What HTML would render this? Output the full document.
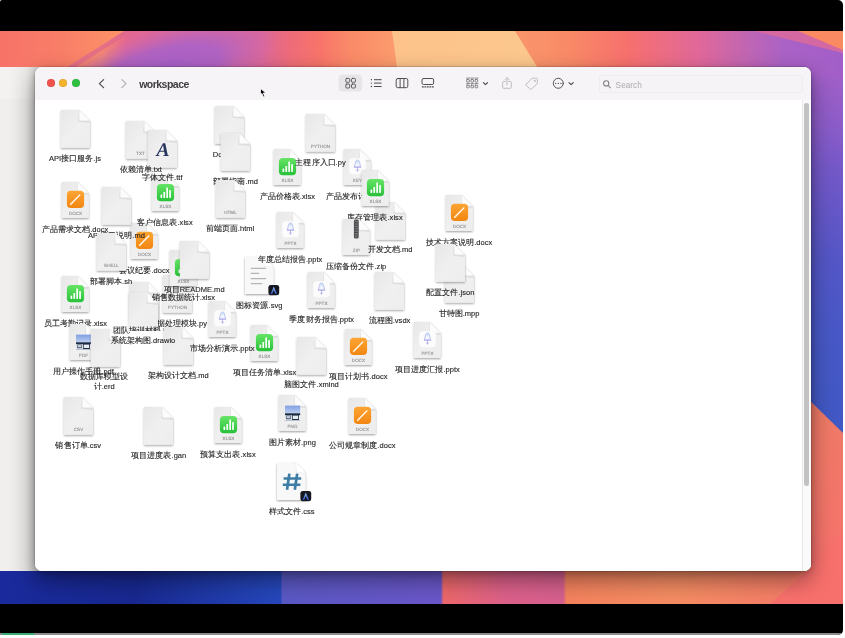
<!DOCTYPE html>
<html lang="zh">
<head>
<meta charset="utf-8">
<title>workspace</title>
<style>
html,body{margin:0;padding:0;background:#fff;}
body{width:845px;height:638px;overflow:hidden;position:relative;font-family:"Liberation Sans",sans-serif;}
#frame{position:absolute;left:0;top:0;width:843px;height:635px;background:#000;overflow:hidden;border-radius:2px 5px 5px 0;}
#wall{position:absolute;left:0;top:31px;width:843px;height:573px;display:block;}
#back{position:absolute;left:-20px;top:67px;width:65px;height:504px;background:linear-gradient(90deg,#f3f1ef 0,#f1efed 28px,#e9e7e5 46px,#d6d4d2 55px,#d6d4d2 65px);}
#back:before{content:"";position:absolute;left:0;top:0;width:65px;height:32px;background:linear-gradient(90deg,#f6f4f2 0,#f4f2f0 28px,#ecebe9 46px,#dbd9d7 55px,#dbd9d7 65px);}
#win{position:absolute;left:35px;top:67px;width:776px;height:504px;background:#fff;border-radius:7px;box-shadow:0 0 0 0.5px rgba(0,0,0,.22),0 9px 22px rgba(0,0,0,.42),0 2px 6px rgba(0,0,0,.18);overflow:hidden;}
#tb{position:absolute;left:0;top:0;width:776px;height:33px;background:#f6f4f7;border-bottom:0.5px solid #e9e7ea;}
.tl{position:absolute;top:12.2px;width:8px;height:8px;border-radius:50%;}
#title{position:absolute;left:104.2px;top:9.6px;filter:blur(0.25px);font-size:10.5px;font-weight:bold;color:#3e3c40;line-height:14px;letter-spacing:-0.52px;}
#search{position:absolute;left:564px;top:8.4px;width:204px;height:17.6px;border-radius:4px;background:#f5f3f6;box-shadow:inset 0 0 0 0.5px #e9e7ea;}
#search span{position:absolute;left:16.6px;top:3.2px;filter:blur(0.25px);font-size:8.3px;line-height:12px;color:#ababad;}
#tbi{position:absolute;left:0;top:0;filter:blur(0.25px);}
#content{position:absolute;left:0;top:33px;width:776px;height:471px;overflow:hidden;background:#fff;}
#items{position:absolute;left:-35px;top:-100px;width:845px;height:638px;filter:blur(0.3px);}
.ic{position:absolute;overflow:visible;}
.ic text{text-rendering:geometricPrecision;}
.lb{position:absolute;width:100px;text-align:center;font-size:7.5px;line-height:9.9px;letter-spacing:0.04px;color:#1f1f21;white-space:nowrap;-webkit-text-stroke:0.12px #1f1f21;}
#sbtrack{position:absolute;left:767px;top:33px;width:9px;height:471px;background:#fafafa;border-left:0.5px solid #e8e8e8;}
#sb{position:absolute;left:769.2px;top:35.5px;width:4.6px;height:383px;border-radius:2.3px;background:#c2c2c2;}
#prog{position:absolute;left:0;top:633px;width:843px;height:2px;background:#8c8c8c;}
#prog i{position:absolute;left:2px;top:0;width:32px;height:2px;background:#3cab74;}
#cur{position:absolute;left:258.6px;top:87.3px;}
</style>
</head>
<body>
<div id="frame">
<svg id="wall" width="843" height="573" viewBox="0 0 843 573" preserveAspectRatio="none">
 <defs>
  <linearGradient id="gt" x1="0" y1="0" x2="843" y2="0" gradientUnits="userSpaceOnUse">
   <stop offset="0" stop-color="#f87468"/>
   <stop offset="0.12" stop-color="#fb8c68"/>
   <stop offset="0.15" stop-color="#e46892"/>
   <stop offset="0.22" stop-color="#d868a0"/>
   <stop offset="0.31" stop-color="#dc689a"/>
   <stop offset="0.345" stop-color="#ee6c78"/>
   <stop offset="0.38" stop-color="#f8746a"/>
   <stop offset="0.415" stop-color="#fa8a68"/>
   <stop offset="0.465" stop-color="#fb9a6c"/>
   <stop offset="0.64" stop-color="#f9926a"/>
   <stop offset="0.68" stop-color="#f88866"/>
   <stop offset="0.745" stop-color="#f7706e"/>
   <stop offset="0.83" stop-color="#e0689a"/>
   <stop offset="0.88" stop-color="#c466b0"/>
   <stop offset="0.93" stop-color="#aa62c6"/>
   <stop offset="1" stop-color="#a25ec8"/>
  </linearGradient>
  <radialGradient id="rp" cx="0.5" cy="0.5" r="0.5">
   <stop offset="0" stop-color="#a460ca" stop-opacity="1"/>
   <stop offset="0.55" stop-color="#aa62c8" stop-opacity=".85"/>
   <stop offset="1" stop-color="#c466b4" stop-opacity="0"/>
  </radialGradient>
  <linearGradient id="gl" x1="0" y1="0" x2="124" y2="0" gradientUnits="userSpaceOnUse">
   <stop offset="0" stop-color="#f77268"/>
   <stop offset="0.5" stop-color="#f97e68"/>
   <stop offset="1" stop-color="#fc9468"/>
  </linearGradient>
  <linearGradient id="gband" x1="760" y1="40" x2="800" y2="0" gradientUnits="userSpaceOnUse">
   <stop offset="0" stop-color="#e0648e" stop-opacity="0"/>
   <stop offset="0.5" stop-color="#e4668a" stop-opacity=".8"/>
   <stop offset="1" stop-color="#ee6e80" stop-opacity=".9"/>
  </linearGradient>
  <linearGradient id="gr" x1="0" y1="0" x2="0" y2="573" gradientUnits="userSpaceOnUse">
   <stop offset="0" stop-color="#b062c4"/>
   <stop offset="0.06" stop-color="#a660c8"/>
   <stop offset="0.17" stop-color="#8a5cc8"/>
   <stop offset="0.24" stop-color="#7458c8"/>
   <stop offset="0.40" stop-color="#5456c6"/>
   <stop offset="0.52" stop-color="#4858c6"/>
   <stop offset="0.65" stop-color="#4258c4"/>
   <stop offset="1" stop-color="#3e58c2"/>
  </linearGradient>
  <linearGradient id="grc" x1="0" y1="370" x2="0" y2="573" gradientUnits="userSpaceOnUse">
   <stop offset="0" stop-color="#ee7a66"/>
   <stop offset="0.6" stop-color="#f4746a"/>
   <stop offset="1" stop-color="#f86c70"/>
  </linearGradient>
  <linearGradient id="gb" x1="0" y1="0" x2="843" y2="0" gradientUnits="userSpaceOnUse">
   <stop offset="0" stop-color="#1a2a9c"/>
   <stop offset="0.16" stop-color="#182890"/>
   <stop offset="0.333" stop-color="#2648bc"/>
   <stop offset="0.335" stop-color="#5a58c4"/>
   <stop offset="0.523" stop-color="#6a56c8"/>
   <stop offset="0.526" stop-color="#ec686a"/>
   <stop offset="0.60" stop-color="#dc608a"/>
   <stop offset="0.668" stop-color="#d6608e"/>
   <stop offset="0.672" stop-color="#f4825e"/>
   <stop offset="0.80" stop-color="#f48c62"/>
   <stop offset="0.92" stop-color="#f47e66"/>
   <stop offset="1" stop-color="#f8706c"/>
  </linearGradient>
  <linearGradient id="gpe" x1="392" y1="0" x2="540" y2="0" gradientUnits="userSpaceOnUse">
   <stop offset="0" stop-color="#fcc28a"/>
   <stop offset="1" stop-color="#fcc88e"/>
  </linearGradient>
 </defs>
 <!-- base / right strip -->
 <rect x="0" y="0" width="843" height="573" fill="url(#gr)"/>
 <!-- top strip -->
 <rect x="0" y="0" width="843" height="44" fill="url(#gt)"/>
 <ellipse cx="152" cy="46" rx="98" ry="60" fill="url(#rp)" transform="translate(152 46) skewX(-52) translate(-152 -46)"/>
 <polygon points="124,0 133,0 63,44 54,44" fill="#e06a8c" opacity=".8"/>
 <polygon points="0,0 124,0 54,44 0,44" fill="url(#gl)"/>
 <path d="M392,0 L515,0 C524,14 532,28 542,44 L398,44 Z" fill="url(#gpe)"/>
 <!-- top-right diagonal bands -->
 <polygon points="754,0 807,0 843,18 843,22" fill="#dc6a9c" opacity=".85"/>
 <polygon points="798,0 843,0 843,19" fill="#f98a62"/>
 <!-- right strip lower coral -->
 <polygon points="800,360 843,402 843,573 800,573" fill="url(#grc)"/>
 <!-- bottom strip -->
 <rect x="0" y="536" width="843" height="37" fill="url(#gb)"/>
 <polygon points="770,573 843,573 843,500 812,536" fill="#f8706c"/>
</svg>
<div id="back"></div>
<div id="win">
 <div id="tb">
  <div class="tl" style="left:11.6px;background:#f0524c;box-shadow:inset 0 0 0 .5px rgba(0,0,0,.12)"></div>
  <div class="tl" style="left:24.2px;background:#f5b32d;box-shadow:inset 0 0 0 .5px rgba(0,0,0,.12)"></div>
  <div class="tl" style="left:36.8px;background:#2fc03f;box-shadow:inset 0 0 0 .5px rgba(0,0,0,.12)"></div>
  <div id="title">workspace</div>
  <div id="search"><span>Search</span></div>
  <svg id="tbi" width="776" height="33" viewBox="35 67 776 33" fill="none" stroke-linecap="round" stroke-linejoin="round">
   <!-- back / forward -->
   <path d="M103.6,79.6 L99.4,83.6 L103.6,87.6" stroke="#4e4c50" stroke-width="1.25"/>
   <path d="M121.8,79.6 L126,83.6 L121.8,87.6" stroke="#b4b2b6" stroke-width="1.25"/>
   <!-- icon view (selected) -->
   <rect x="338.6" y="74.6" width="23.6" height="17" rx="4" fill="#e7e5e8" stroke="none"/>
   <g stroke="#4a484c" stroke-width="0.85">
    <rect x="345.8" y="78.4" width="3.9" height="3.9" rx="0.9"/>
    <rect x="351.5" y="78.4" width="3.9" height="3.9" rx="0.9"/>
    <rect x="345.8" y="84.1" width="3.9" height="3.9" rx="0.9"/>
    <rect x="351.5" y="84.1" width="3.9" height="3.9" rx="0.9"/>
   </g>
   <!-- list view -->
   <g stroke="#4a484c" stroke-width="1">
    <path d="M374.4,79.7H381.2M374.4,83.1H381.2M374.4,86.5H381.2"/>
    <path d="M371.4,79.7h.1M371.4,83.1h.1M371.4,86.5h.1" stroke-width="1.3"/>
   </g>
   <!-- column view -->
   <g stroke="#4a484c" stroke-width="0.95">
    <rect x="396.2" y="78.5" width="11.6" height="9.2" rx="1.6"/>
    <path d="M400.1,78.6V87.6M403.9,78.6V87.6"/>
   </g>
   <!-- gallery view -->
   <g stroke="#4a484c" stroke-width="0.95">
    <rect x="422" y="78.5" width="11.6" height="6" rx="1.5"/>
    <path d="M422.4,86.9h.9M424.9,86.9h.9M427.4,86.9h.9M429.9,86.9h.9M432.4,86.9h.9" stroke-width="1.1"/>
   </g>
   <!-- group -->
   <g stroke="#6c6a6e" stroke-width="0.8">
    <path d="M466.6,78.1h3M470.8,78.1h3M475,78.1h3M466.6,83.6h3M470.8,83.6h3M475,83.6h3"/>
    <rect x="466.7" y="79.5" width="2.6" height="2.6" rx="0.5"/>
    <rect x="470.9" y="79.5" width="2.6" height="2.6" rx="0.5"/>
    <rect x="475.1" y="79.5" width="2.6" height="2.6" rx="0.5"/>
    <rect x="466.7" y="85.2" width="2.6" height="2.6" rx="0.5"/>
    <rect x="470.9" y="85.2" width="2.6" height="2.6" rx="0.5"/>
    <rect x="475.1" y="85.2" width="2.6" height="2.6" rx="0.5"/>
   </g>
   <path d="M483.4,82.6 L485.5,84.6 L487.6,82.6" stroke="#4a484c" stroke-width="1.15"/>
   <!-- share -->
   <g stroke="#bcbabe" stroke-width="0.95">
    <path d="M505.4,81.4H503.6a.9,.9 0 0 0 -.9,.9V87.4a.9,.9 0 0 0 .9,.9H510.4a.9,.9 0 0 0 .9,-.9V82.3a.9,.9 0 0 0 -.9,-.9H508.6"/>
    <path d="M507,85.2V77.8M505,79.7L507,77.7L509,79.7"/>
   </g>
   <!-- tag -->
   <g stroke="#bcbabe" stroke-width="0.95">
    <path d="M526.3,84.2 L531.6,78.6 a1.2,1.2 0 0 1 .9,-.4 L536.4,78.2 a1,1 0 0 1 1,1 L537.4,83 a1.2,1.2 0 0 1 -.4,.9 L531.6,89 a1,1 0 0 1 -1.4,0 L526.3,85.6 a1,1 0 0 1 0,-1.4Z"/>
    <circle cx="534.7" cy="80.9" r="0.6"/>
   </g>
   <!-- more -->
   <g stroke="#4e4c50" stroke-width="0.95">
    <circle cx="558.3" cy="83.3" r="5"/>
    <path d="M555.7,83.3h.1M558.3,83.3h.1M560.9,83.3h.1" stroke-width="1.35"/>
   </g>
   <path d="M569,82.6 L571.1,84.6 L573.2,82.6" stroke="#4a484c" stroke-width="1.15"/>
   <!-- search glass -->
   <g stroke="#7f7d82" stroke-width="1.05">
    <circle cx="606.2" cy="83.4" r="2.6"/>
    <path d="M608.2,85.5 L610.4,87.8"/>
   </g>
  </svg>
 </div>
 <div id="content">
  <div id="items">
   <svg width="0" height="0" style="position:absolute">
    <defs>
     <linearGradient id="pgf" x1="0" y1="0" x2="1" y2="1">
      <stop offset="0" stop-color="#e7e7e7"/>
      <stop offset="0.5" stop-color="#f0f0f0"/>
      <stop offset="1" stop-color="#ededed"/>
     </linearGradient>
     <linearGradient id="fo" x1="0" y1="0" x2="1" y2="1">
      <stop offset="0" stop-color="#d9d9d9"/>
      <stop offset="1" stop-color="#e6e6e6"/>
     </linearGradient>
     <linearGradient id="og" x1="0" y1="0" x2="0" y2="1">
      <stop offset="0" stop-color="#fda534"/>
      <stop offset="1" stop-color="#f28612"/>
     </linearGradient>
     <linearGradient id="gg" x1="0" y1="0" x2="0" y2="1">
      <stop offset="0" stop-color="#66e466"/>
      <stop offset="1" stop-color="#28c13a"/>
     </linearGradient>
     <linearGradient id="sky" x1="0" y1="0" x2="0" y2="1">
      <stop offset="0" stop-color="#7f9fe2"/>
      <stop offset="1" stop-color="#bfd0f2"/>
     </linearGradient>
     <linearGradient id="arch" x1="0" y1="0" x2="0" y2="1">
      <stop offset="0" stop-color="#9cc6f6"/>
      <stop offset="1" stop-color="#2a52c4"/>
     </linearGradient>
     <filter id="sh" x="-30%" y="-30%" width="160%" height="160%">
      <feGaussianBlur in="SourceAlpha" stdDeviation="0.8"/>
      <feOffset dy="0.7" result="b"/>
      <feComponentTransfer><feFuncA type="linear" slope="0.38"/></feComponentTransfer>
      <feMerge><feMergeNode/><feMergeNode in="SourceGraphic"/></feMerge>
     </filter>
     <g id="pg">
      <path d="M0.4,0 H18.2 L29,10.8 V37.2 a.5,.5 0 0 1 -.5,.5 H0.4 a.5,.5 0 0 1 -.5,-.5 V0.5 a.5,.5 0 0 1 .5,-.5Z" fill="url(#pgf)" filter="url(#sh)"/>
      <path d="M18.2,0 L29,10.8 L29,13 L17.2,11.8Z" fill="#cfcfcf" opacity=".5"/>
      <path d="M18.2,0 L29,10.8 H19.6 a1.4,1.4 0 0 1 -1.4,-1.4Z" fill="#fcfcfc" stroke="#dedede" stroke-width=".3"/>
     </g>
     <g id="pgs" transform="translate(0.85,1)">
      <path d="M0.5,0 H15.8 L26.8,11 V35.5 a.5,.5 0 0 1 -.5,.5 H0.5 a.5,.5 0 0 1 -.5,-.5 V0.5 a.5,.5 0 0 1 .5,-.5Z" fill="url(#pgf)" filter="url(#sh)"/>
      <path d="M15.8,0 L26.8,11 L26.8,13 L14.8,12Z" fill="#cfcfcf" opacity=".5"/>
      <path d="M15.8,0 L26.8,11 H17.2 a1.4,1.4 0 0 1 -1.4,-1.4Z" fill="#fcfcfc" stroke="#dedede" stroke-width=".3"/>
     </g>
     <g id="pg2">
      <path d="M0.6,0 H17 C21,0.5 28,7 28.5,11.5 V36.4 a.6,.6 0 0 1 -.6,.6 H0.6 a.6,.6 0 0 1 -.6,-.6 V0.6 a.6,.6 0 0 1 .6,-.6Z" fill="#f8f8f8" filter="url(#sh)"/>
      <path d="M17,0 C21,0.5 28,7 28.5,11.5 C26,9.6 22.4,9.2 19.4,9.6 C19.6,6.4 19,2.6 17,0Z" fill="#fff" stroke="#dcdcdc" stroke-width=".35"/>
     </g>
     <g id="docx" transform="translate(0.3,0.7)">
      <rect x="5.6" y="9" width="17.2" height="17.2" rx="4" fill="url(#og)"/>
      <path d="M9.4,22.6 L18.6,13.2" stroke="#fff" stroke-width="1.35" stroke-linecap="round"/>
      <path d="M9.2,22.8 L10.6,21.4" stroke="#ffe2b8" stroke-width="1.35" stroke-linecap="round"/>
     </g>
     <g id="xlsx" transform="translate(0.3,1)">
      <rect x="5.6" y="9" width="17.2" height="17.2" rx="4" fill="url(#gg)"/>
      <g fill="#fff">
       <rect x="9.2" y="19.6" width="1.7" height="3.4" rx=".4"/>
       <rect x="12.1" y="17" width="1.7" height="6" rx=".4"/>
       <rect x="15" y="12.4" width="1.7" height="10.6" rx=".4"/>
       <rect x="17.9" y="15.1" width="1.7" height="7.9" rx=".4"/>
      </g>
     </g>
     <g id="pptx" transform="translate(0.3,0.6)">
      <rect x="5.9" y="9.6" width="16.6" height="16" rx="3.6" fill="#fcfcfd"/>
      <path d="M14.2,11.4 c-1.2,0 -1.8,1 -2.1,2.3 l-1,4.8 h6.2 l-1,-4.8 c-.3,-1.3 -.9,-2.3 -2.1,-2.3Z" fill="#eff4fd" stroke="#8a8fe0" stroke-width=".5" stroke-linejoin="round"/>
      <circle cx="14.2" cy="12.9" r="1" fill="#cfe2f8" stroke="#a9c6f0" stroke-width=".35"/>
      <path d="M10.9,18.6 H17.5 M14.2,18.7 V22.4 M13.2,21.2 L14.2,22.6 L15.2,21.2" stroke="#8a84da" stroke-width=".5" fill="none" stroke-linecap="round"/>
     </g>
     <g id="thumb" transform="translate(0.3,0)">
      <rect x="6.7" y="11.6" width="15.2" height="15.4" fill="#eef2f7"/>
      <rect x="6.7" y="11.6" width="15.2" height="8" fill="url(#sky)"/>
      <rect x="6.7" y="19.3" width="15.2" height="1.9" fill="#1d2b44"/>
      <rect x="7.6" y="21.6" width="5" height="3.6" rx=".4" fill="#3a4a60"/>
      <rect x="8.2" y="22.1" width="3.8" height="2.2" fill="#c8d4e4"/>
      <rect x="13.6" y="20.4" width="7" height="5.6" rx=".5" fill="#202c40"/>
      <rect x="14.4" y="21.6" width="5.4" height="3.4" fill="#e6ecf4"/>
      <rect x="6.7" y="26.2" width="15.2" height=".8" fill="#aab4c4"/>
     </g>
     <g id="zipper" transform="translate(0.1,1)">
      <rect x="11.8" y="0.4" width="4.8" height="19.2" rx="1.6" fill="#4a4a4c"/>
      <path d="M12.4,2.6h3.6M12.4,5h3.6M12.4,7.4h3.6M12.4,9.8h3.6M12.4,12.2h3.6M12.4,14.6h3.6" stroke="#8e8e90" stroke-width=".8"/>
      <rect x="12.8" y="15.4" width="2.8" height="3.4" rx=".9" fill="#6a6a6c"/>
     </g>
     <g id="lines" stroke="#b4b4b6" stroke-width="1.25" stroke-linecap="round">
      <path d="M6.2,11.3H20.6M6.2,16.4H13.8M6.2,21.5H20.6M6.2,26.6H16.8"/>
     </g>
     <g id="badge">
      <rect x="23.4" y="27.9" width="10.8" height="10.4" rx="2.4" fill="#16161e"/>
      <path d="M25.5,36.9 L28.8,29.4 L32.1,36.9 L30.4,36.9 L28.8,33 L27.2,36.9Z" fill="url(#arch)"/>
     </g>
    </defs>
   </svg>
<svg class="ic" style="left:56.5px;top:107.1px" width="40" height="46" viewBox="-4 -3 40 46"><use href="#pg"/></svg>
<div class="lb" style="left:25.0px;top:154.0px">API接口服务.js</div>
<svg class="ic" style="left:146.5px;top:170.8px" width="40" height="46" viewBox="-4 -3 40 46"><use href="#pgs"/><use href="#xlsx"/><text x="14.5" y="33.9" text-anchor="middle" font-family="Liberation Sans, sans-serif" font-size="4.5" fill="#909090" stroke="#909090" stroke-width="0.12" letter-spacing="0.1">XLSX</text></svg>
<svg class="ic" style="left:122.2px;top:118.0px" width="40" height="46" viewBox="-4 -3 40 46"><use href="#pg"/><text x="14.5" y="33.9" text-anchor="middle" font-family="Liberation Sans, sans-serif" font-size="4.5" fill="#909090" stroke="#909090" stroke-width="0.12" letter-spacing="0.1">TXT</text></svg>
<svg class="ic" style="left:143.7px;top:126.5px" width="40" height="46" viewBox="-4 -3 40 46"><use href="#pg"/><text x="14.9" y="26.4" text-anchor="middle" font-family="Liberation Serif, serif" font-style="italic" font-weight="bold" font-size="19.5" fill="#28355f">A</text></svg>
<div class="lb" style="left:90.7px;top:164.9px">依赖清单.txt</div>
<div class="lb" style="left:112.2px;top:173.4px">字体文件.ttf</div>
<svg class="ic" style="left:211.2px;top:102.7px" width="40" height="46" viewBox="-4 -3 40 46"><use href="#pg"/></svg>
<div class="lb" style="left:179.7px;top:149.6px">Dockerfile</div>
<svg class="ic" style="left:217.2px;top:130.2px" width="40" height="46" viewBox="-4 -3 40 46"><use href="#pg"/></svg>
<div class="lb" style="left:185.7px;top:177.1px">部署指南.md</div>
<svg class="ic" style="left:211.5px;top:177.2px" width="40" height="46" viewBox="-4 -3 40 46"><use href="#pg"/><text x="14.5" y="33.9" text-anchor="middle" font-family="Liberation Sans, sans-serif" font-size="4.5" fill="#909090" stroke="#909090" stroke-width="0.12" letter-spacing="0.1">HTML</text></svg>
<div class="lb" style="left:180.0px;top:224.1px">前端页面.html</div>
<svg class="ic" style="left:268.8px;top:144.9px" width="40" height="46" viewBox="-4 -3 40 46"><use href="#pgs"/><use href="#xlsx"/><text x="14.5" y="33.9" text-anchor="middle" font-family="Liberation Sans, sans-serif" font-size="4.5" fill="#909090" stroke="#909090" stroke-width="0.12" letter-spacing="0.1">XLSX</text></svg>
<div class="lb" style="left:237.3px;top:191.8px">产品价格表.xlsx</div>
<svg class="ic" style="left:338.7px;top:144.9px" width="40" height="46" viewBox="-4 -3 40 46"><use href="#pgs"/><use href="#pptx"/><text x="14.5" y="33.9" text-anchor="middle" font-family="Liberation Sans, sans-serif" font-size="4.5" fill="#909090" stroke="#909090" stroke-width="0.12" letter-spacing="0.1">KEY</text></svg>
<div class="lb" style="left:307.2px;top:191.8px">产品发布计划.key</div>
<svg class="ic" style="left:302.1px;top:111.1px" width="40" height="46" viewBox="-4 -3 40 46"><use href="#pg"/><text x="14.5" y="33.9" text-anchor="middle" font-family="Liberation Sans, sans-serif" font-size="4.5" fill="#909090" stroke="#909090" stroke-width="0.12" letter-spacing="0.1">PYTHON</text></svg>
<div class="lb" style="left:270.6px;top:158.0px">主程序入口.py</div>
<svg class="ic" style="left:371.5px;top:198.5px" width="40" height="46" viewBox="-4 -3 40 46"><use href="#pg"/></svg>
<svg class="ic" style="left:356.5px;top:165.7px" width="40" height="46" viewBox="-4 -3 40 46"><use href="#pgs"/><use href="#xlsx"/><text x="14.5" y="33.9" text-anchor="middle" font-family="Liberation Sans, sans-serif" font-size="4.5" fill="#909090" stroke="#909090" stroke-width="0.12" letter-spacing="0.1">XLSX</text></svg>
<div class="lb" style="left:325.0px;top:212.6px">库存管理表.xlsx</div>
<svg class="ic" style="left:337.8px;top:215.2px" width="40" height="46" viewBox="-4 -3 40 46"><use href="#pgs"/><use href="#zipper"/><text x="14.5" y="33.9" text-anchor="middle" font-family="Liberation Sans, sans-serif" font-size="4.5" fill="#909090" stroke="#909090" stroke-width="0.12" letter-spacing="0.1">ZIP</text></svg>
<div class="lb" style="left:306.3px;top:262.1px">压缩备份文件.zip</div>
<div class="lb" style="left:340.0px;top:245.4px">开发文档.md</div>
<svg class="ic" style="left:56.7px;top:178.2px" width="40" height="46" viewBox="-4 -3 40 46"><use href="#pgs"/><use href="#docx"/><text x="14.5" y="33.9" text-anchor="middle" font-family="Liberation Sans, sans-serif" font-size="4.5" fill="#909090" stroke="#909090" stroke-width="0.12" letter-spacing="0.1">DOCX</text></svg>
<div class="lb" style="left:25.2px;top:225.1px">产品需求文档.docx</div>
<svg class="ic" style="left:125.9px;top:219.0px" width="40" height="46" viewBox="-4 -3 40 46"><use href="#pgs"/><use href="#docx"/><text x="14.5" y="33.9" text-anchor="middle" font-family="Liberation Sans, sans-serif" font-size="4.5" fill="#909090" stroke="#909090" stroke-width="0.12" letter-spacing="0.1">DOCX</text></svg>
<div class="lb" style="left:94.4px;top:265.9px">会议纪要.docx</div>
<div class="lb" style="left:115.0px;top:217.7px">客户信息表.xlsx</div>
<svg class="ic" style="left:97.9px;top:184.4px" width="40" height="46" viewBox="-4 -3 40 46"><use href="#pg"/></svg>
<div class="lb" style="left:66.4px;top:231.3px">API接口说明.md</div>
<svg class="ic" style="left:440.7px;top:191.4px" width="40" height="46" viewBox="-4 -3 40 46"><use href="#pgs"/><use href="#docx"/><text x="14.5" y="33.9" text-anchor="middle" font-family="Liberation Sans, sans-serif" font-size="4.5" fill="#909090" stroke="#909090" stroke-width="0.12" letter-spacing="0.1">DOCX</text></svg>
<div class="lb" style="left:409.2px;top:238.3px">技术方案说明.docx</div>
<svg class="ic" style="left:440.5px;top:262.1px" width="40" height="46" viewBox="-4 -3 40 46"><use href="#pg"/></svg>
<div class="lb" style="left:409.0px;top:309.0px">甘特图.mpp</div>
<svg class="ic" style="left:431.8px;top:240.9px" width="40" height="46" viewBox="-4 -3 40 46"><use href="#pg"/></svg>
<div class="lb" style="left:400.3px;top:287.8px">配置文件.json</div>
<svg class="ic" style="left:240.9px;top:254.1px" width="40" height="46" viewBox="-4 -3 40 46"><use href="#pg2"/><use href="#lines"/><use href="#badge"/></svg>
<div class="lb" style="left:209.4px;top:301.0px">图标资源.svg</div>
<svg class="ic" style="left:271.5px;top:208.3px" width="40" height="46" viewBox="-4 -3 40 46"><use href="#pgs"/><use href="#pptx"/><text x="14.5" y="33.9" text-anchor="middle" font-family="Liberation Sans, sans-serif" font-size="4.5" fill="#909090" stroke="#909090" stroke-width="0.12" letter-spacing="0.1">PPTX</text></svg>
<div class="lb" style="left:240.0px;top:255.2px">年度总结报告.pptx</div>
<svg class="ic" style="left:159.3px;top:272.2px" width="40" height="46" viewBox="-4 -3 40 46"><use href="#pg"/><text x="14.5" y="33.9" text-anchor="middle" font-family="Liberation Sans, sans-serif" font-size="4.5" fill="#909090" stroke="#909090" stroke-width="0.12" letter-spacing="0.1">PYTHON</text></svg>
<div class="lb" style="left:127.8px;top:319.1px">数据处理模块.py</div>
<svg class="ic" style="left:125.5px;top:278.8px" width="40" height="46" viewBox="-4 -3 40 46"><use href="#pg"/></svg>
<svg class="ic" style="left:124.5px;top:289.1px" width="40" height="46" viewBox="-4 -3 40 46"><use href="#pg"/></svg>
<svg class="ic" style="left:164.8px;top:245.9px" width="40" height="46" viewBox="-4 -3 40 46"><use href="#pgs"/><use href="#xlsx"/><text x="14.5" y="33.9" text-anchor="middle" font-family="Liberation Sans, sans-serif" font-size="4.5" fill="#909090" stroke="#909090" stroke-width="0.12" letter-spacing="0.1">XLSX</text></svg>
<div class="lb" style="left:133.3px;top:292.8px">销售数据统计.xlsx</div>
<svg class="ic" style="left:175.6px;top:238.1px" width="40" height="46" viewBox="-4 -3 40 46"><use href="#pg"/></svg>
<div class="lb" style="left:144.1px;top:285.0px">项目README.md</div>
<svg class="ic" style="left:92.5px;top:230.0px" width="40" height="46" viewBox="-4 -3 40 46"><use href="#pg"/><text x="14.5" y="33.9" text-anchor="middle" font-family="Liberation Sans, sans-serif" font-size="4.5" fill="#909090" stroke="#909090" stroke-width="0.12" letter-spacing="0.1">SHELL</text></svg>
<div class="lb" style="left:61.0px;top:276.9px">部署脚本.sh</div>
<svg class="ic" style="left:56.9px;top:271.7px" width="40" height="46" viewBox="-4 -3 40 46"><use href="#pgs"/><use href="#xlsx"/><text x="14.5" y="33.9" text-anchor="middle" font-family="Liberation Sans, sans-serif" font-size="4.5" fill="#909090" stroke="#909090" stroke-width="0.12" letter-spacing="0.1">XLSX</text></svg>
<div class="lb" style="left:25.4px;top:318.6px">员工考勤记录.xlsx</div>
<div class="lb" style="left:94.0px;top:325.7px">团队培训材料.key</div>
<div style="position:absolute;left:129.5px;top:330.6px;width:35px;height:4.6px;background:#fff"></div>
<svg class="ic" style="left:303.3px;top:268.1px" width="40" height="46" viewBox="-4 -3 40 46"><use href="#pgs"/><use href="#pptx"/><text x="14.5" y="33.9" text-anchor="middle" font-family="Liberation Sans, sans-serif" font-size="4.5" fill="#909090" stroke="#909090" stroke-width="0.12" letter-spacing="0.1">PPTX</text></svg>
<div class="lb" style="left:271.8px;top:315.0px">季度财务报告.pptx</div>
<svg class="ic" style="left:371.0px;top:268.7px" width="40" height="46" viewBox="-4 -3 40 46"><use href="#pg"/></svg>
<div class="lb" style="left:339.5px;top:315.6px">流程图.vsdx</div>
<svg class="ic" style="left:65.0px;top:320.2px" width="40" height="46" viewBox="-4 -3 40 46"><use href="#pgs"/><use href="#thumb"/><text x="14.5" y="33.9" text-anchor="middle" font-family="Liberation Sans, sans-serif" font-size="4.5" fill="#909090" stroke="#909090" stroke-width="0.12" letter-spacing="0.1">PDF</text></svg>
<div class="lb" style="left:33.5px;top:367.1px">用户操作手册.pdf</div>
<svg class="ic" style="left:87.1px;top:325.5px" width="40" height="46" viewBox="-4 -3 40 46"><use href="#pg"/></svg>
<div class="lb" style="left:54.2px;top:372.4px">数据库模型设<br>计.erd</div>
<svg class="ic" style="left:159.8px;top:323.6px" width="40" height="46" viewBox="-4 -3 40 46"><use href="#pg"/></svg>
<div class="lb" style="left:128.3px;top:370.5px">架构设计文档.md</div>
<div class="lb" style="left:93.0px;top:336.0px">系统架构图.drawio</div>
<svg class="ic" style="left:246.1px;top:321.2px" width="40" height="46" viewBox="-4 -3 40 46"><use href="#pgs"/><use href="#xlsx"/><text x="14.5" y="33.9" text-anchor="middle" font-family="Liberation Sans, sans-serif" font-size="4.5" fill="#909090" stroke="#909090" stroke-width="0.12" letter-spacing="0.1">XLSX</text></svg>
<div class="lb" style="left:214.6px;top:368.1px">项目任务清单.xlsx</div>
<svg class="ic" style="left:203.8px;top:297.2px" width="40" height="46" viewBox="-4 -3 40 46"><use href="#pgs"/><use href="#pptx"/><text x="14.5" y="33.9" text-anchor="middle" font-family="Liberation Sans, sans-serif" font-size="4.5" fill="#909090" stroke="#909090" stroke-width="0.12" letter-spacing="0.1">PPTX</text></svg>
<div class="lb" style="left:172.3px;top:344.1px">市场分析演示.pptx</div>
<svg class="ic" style="left:293.1px;top:333.5px" width="40" height="46" viewBox="-4 -3 40 46"><use href="#pg"/></svg>
<div class="lb" style="left:261.6px;top:380.4px">脑图文件.xmind</div>
<svg class="ic" style="left:339.9px;top:324.9px" width="40" height="46" viewBox="-4 -3 40 46"><use href="#pgs"/><use href="#docx"/><text x="14.5" y="33.9" text-anchor="middle" font-family="Liberation Sans, sans-serif" font-size="4.5" fill="#909090" stroke="#909090" stroke-width="0.12" letter-spacing="0.1">DOCX</text></svg>
<div class="lb" style="left:308.4px;top:371.8px">项目计划书.docx</div>
<svg class="ic" style="left:409.0px;top:318.0px" width="40" height="46" viewBox="-4 -3 40 46"><use href="#pgs"/><use href="#pptx"/><text x="14.5" y="33.9" text-anchor="middle" font-family="Liberation Sans, sans-serif" font-size="4.5" fill="#909090" stroke="#909090" stroke-width="0.12" letter-spacing="0.1">PPTX</text></svg>
<div class="lb" style="left:377.5px;top:364.9px">项目进度汇报.pptx</div>
<svg class="ic" style="left:59.8px;top:394.1px" width="40" height="46" viewBox="-4 -3 40 46"><use href="#pg"/><text x="14.5" y="33.9" text-anchor="middle" font-family="Liberation Sans, sans-serif" font-size="4.5" fill="#909090" stroke="#909090" stroke-width="0.12" letter-spacing="0.1">CSV</text></svg>
<div class="lb" style="left:28.3px;top:441.0px">销售订单.csv</div>
<svg class="ic" style="left:140.3px;top:403.6px" width="40" height="46" viewBox="-4 -3 40 46"><use href="#pg"/></svg>
<div class="lb" style="left:108.8px;top:450.5px">项目进度表.gan</div>
<svg class="ic" style="left:209.5px;top:403.4px" width="40" height="46" viewBox="-4 -3 40 46"><use href="#pgs"/><use href="#xlsx"/><text x="14.5" y="33.9" text-anchor="middle" font-family="Liberation Sans, sans-serif" font-size="4.5" fill="#909090" stroke="#909090" stroke-width="0.12" letter-spacing="0.1">XLSX</text></svg>
<div class="lb" style="left:178.0px;top:450.3px">预算支出表.xlsx</div>
<svg class="ic" style="left:273.9px;top:390.8px" width="40" height="46" viewBox="-4 -3 40 46"><use href="#pgs"/><use href="#thumb"/><text x="14.5" y="33.9" text-anchor="middle" font-family="Liberation Sans, sans-serif" font-size="4.5" fill="#909090" stroke="#909090" stroke-width="0.12" letter-spacing="0.1">PNG</text></svg>
<div class="lb" style="left:242.4px;top:437.7px">图片素材.png</div>
<svg class="ic" style="left:343.8px;top:393.9px" width="40" height="46" viewBox="-4 -3 40 46"><use href="#pgs"/><use href="#docx"/><text x="14.5" y="33.9" text-anchor="middle" font-family="Liberation Sans, sans-serif" font-size="4.5" fill="#909090" stroke="#909090" stroke-width="0.12" letter-spacing="0.1">DOCX</text></svg>
<div class="lb" style="left:312.3px;top:440.8px">公司规章制度.docx</div>
<svg class="ic" style="left:273.3px;top:460.0px" width="40" height="46" viewBox="-4 -3 40 46"><use href="#pg2"/><g stroke="#3d7da5" stroke-width="2.7" fill="none"><path d="M12.4,10.6L10,26.8M20.2,10.6L17.8,26.8"/><path d="M6.6,15.6H24.2M5.8,21.8H23.4" stroke-width="2.5"/></g><use href="#badge"/></svg>
<div class="lb" style="left:241.8px;top:506.9px">样式文件.css</div>
  </div>
 </div>
 <div id="sbtrack"></div>
 <div id="sb"></div>
</div>
<svg id="cur" width="10" height="13" viewBox="-1.5 -1.5 10 13"><path d="M0,0 L0,6 L1.4,4.9 L2.9,8.5 L4.3,7.9 L2.8,4.5 L5.4,4.4Z" fill="#000" stroke="#fff" stroke-width=".8" stroke-linejoin="round"/></svg>
<div id="prog"><i></i></div>
</div>
</body>
</html>
